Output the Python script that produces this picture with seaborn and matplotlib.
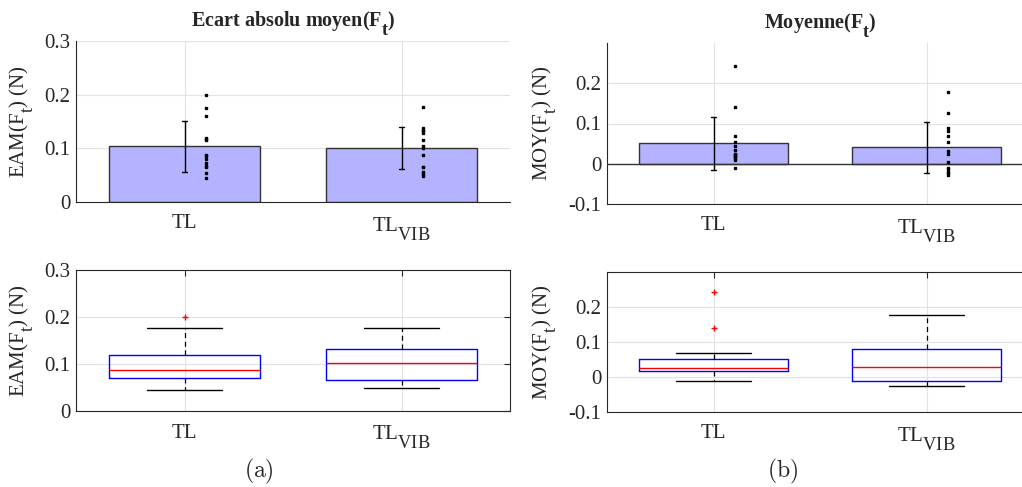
import numpy as np
import pandas as pd
import matplotlib
matplotlib.use('Agg')
import matplotlib.pyplot as plt
import seaborn as sns

try:  # MATLAB-like larger, lower sub-scripts
    import matplotlib._mathtext as _mt
    _mt.SHRINK_FACTOR = 0.88
    _mt.FontConstantsBase.sub1 = 0.9
except Exception:
    pass

# ---------------- data ----------------
groups = ['TL', 'TL_VIB']
group_labels = ['TL', r'TL$_{\mathrm{VIB}}$']

eam_tl = [0.045, 0.054, 0.066, 0.068, 0.073, 0.080, 0.086, 0.088, 0.116, 0.118, 0.120, 0.161, 0.176, 0.200]
eam_vib = [0.049, 0.052, 0.055, 0.065, 0.066, 0.087, 0.100, 0.104, 0.116, 0.128, 0.132, 0.135, 0.138, 0.177]
moy_tl = [-0.011, 0.010, 0.015, 0.017, 0.020, 0.022, 0.024, 0.025, 0.033, 0.045, 0.055, 0.068, 0.141, 0.243]
moy_vib = [-0.027, -0.024, -0.020, -0.013, -0.010, 0.005, 0.025, 0.032, 0.055, 0.070, 0.082, 0.088, 0.127, 0.178]

titles = [r'Ecart absolu moyen(F$_{\mathbf{t}}$)', r'Moyenne(F$_{\mathbf{t}}$)']
ylabels = [r'EAM(F$_{\mathrm{t}}$) (N)', r'MOY(F$_{\mathrm{t}}$) (N)']
panel_tags = [r'$(\mathrm{a})$', r'$(\mathrm{b})$']
eam_ticks = [0, 0.1, 0.2, 0.3]
eam_ticklabels = ['0', '0.1', '0.2', '0.3']
moy_ticks = [-0.1, 0, 0.1, 0.2]
moy_ticklabels = ['-0.1', '0', '0.1', '0.2']
eam_lim = (0, 0.3)
moy_lim = (-0.1, 0.3)

# ---------------- style ----------------
sns.set_theme(style='white')
plt.rcParams.update({
    'font.family': ['Liberation Serif', 'DejaVu Serif'],
    'mathtext.fontset': 'custom',
    'mathtext.rm': 'Liberation Serif',
    'mathtext.it': 'Liberation Serif:italic',
    'mathtext.bf': 'Liberation Serif:bold',
    'axes.edgecolor': '#262626',
    'axes.linewidth': 0.8,
    'xtick.color': '#262626',
    'ytick.color': '#262626',
    'text.color': '#262626',
    'axes.labelcolor': '#262626',
})

BAR_COLOR = '#b3b3ff'
GRID_COLOR = '#e2e2e2'
FS = 15

fig = plt.figure(figsize=(10.22, 4.87), dpi=100)
W, H = 1022, 487

def pos(l, t, r, b):
    return [l / W, 1 - b / H, (r - l) / W, (b - t) / H]

ax_tl = fig.add_axes(pos(76, 41, 510, 202))
ax_tr = fig.add_axes(pos(607, 43, 1033, 204))
ax_bl = fig.add_axes(pos(76, 270, 510, 411))
ax_br = fig.add_axes(pos(607, 272, 1033, 412))

def make_df(a, b):
    return pd.DataFrame({'group': [groups[0]] * len(a) + [groups[1]] * len(b),
                         'value': list(a) + list(b)})

datasets = [(eam_tl, eam_vib), (moy_tl, moy_vib)]
lims = [eam_lim, moy_lim]
ticks = [(eam_ticks, eam_ticklabels), (moy_ticks, moy_ticklabels)]

for col, (ax_top, ax_bot) in enumerate([(ax_tl, ax_bl), (ax_tr, ax_br)]):
    a, b = datasets[col]
    df = make_df(a, b)

    # ---- bar chart with SD error bars and individual points ----
    ax_top.set_axisbelow(True)
    sns.barplot(data=df, x='group', y='value', order=groups, errorbar='sd',
                color=BAR_COLOR, saturation=1, width=0.7, capsize=0.025,
                edgecolor='#333333', linewidth=1,
                err_kws={'color': 'black', 'linewidth': 1}, ax=ax_top)
    for i, vals in enumerate((a, b)):
        ax_top.plot(np.full(len(vals), i + 0.1), vals, linestyle='none',
                    marker='s', markersize=1.8, color='black', zorder=5)
    if lims[col][0] < 0:
        ax_top.axhline(0, color='#333333', linewidth=1, zorder=4)
    ax_top.spines['top'].set_visible(False)
    ax_top.spines['right'].set_visible(False)
    ax_top.set_title(titles[col], fontsize=14.5, fontweight='bold', pad=11)

    # ---- box plot ----
    sns.boxplot(data=df, x='group', y='value', order=groups, width=0.7,
                fill=False, color='blue', linewidth=1, whis=1.5,
                medianprops={'color': 'red', 'linewidth': 1},
                whiskerprops={'color': 'black', 'linestyle': (0, (4, 3)), 'linewidth': 0.9},
                capprops={'color': 'black', 'linewidth': 1},
                flierprops={'marker': '+', 'markeredgecolor': 'red',
                            'markerfacecolor': 'red', 'markersize': 5,
                            'markeredgewidth': 1},
                ax=ax_bot)
    for sp in ax_bot.spines.values():
        sp.set_visible(True)

    for ax in (ax_top, ax_bot):
        ax.set_xlim(-0.5, 1.5)
        ax.set_ylim(*lims[col])
        ax.set_yticks(ticks[col][0])
        ax.set_yticklabels(ticks[col][1], fontsize=FS)
        ax.set_xticks([0, 1])
        ax.set_xticklabels(group_labels, fontsize=FS)
        ax.set_xlabel('')
        ax.set_ylabel(ylabels[col], fontsize=FS)
        ax.grid(True, color=GRID_COLOR, linewidth=0.8)
        ax.tick_params(direction='in', length=4, width=0.8)
        ax.tick_params(axis='x', pad=9)
        ax.tick_params(axis='y', pad=4)
    ax_bot.tick_params(top=True, right=True)
    ax_top.tick_params(top=False, right=False)

ax_tl.yaxis.set_label_coords(-0.095, 0.5)
ax_bl.yaxis.set_label_coords(-0.095, 0.5)
ax_tr.yaxis.set_label_coords(-0.115, 0.5)
ax_br.yaxis.set_label_coords(-0.115, 0.5)

fig.text(259 / W, 1 - 471 / H, panel_tags[0], math_fontfamily='cm',
         ha='center', va='center', fontsize=17)
fig.text(783 / W, 1 - 471 / H, panel_tags[1], math_fontfamily='cm',
         ha='center', va='center', fontsize=17)

fig.savefig('out.png', dpi=100)
